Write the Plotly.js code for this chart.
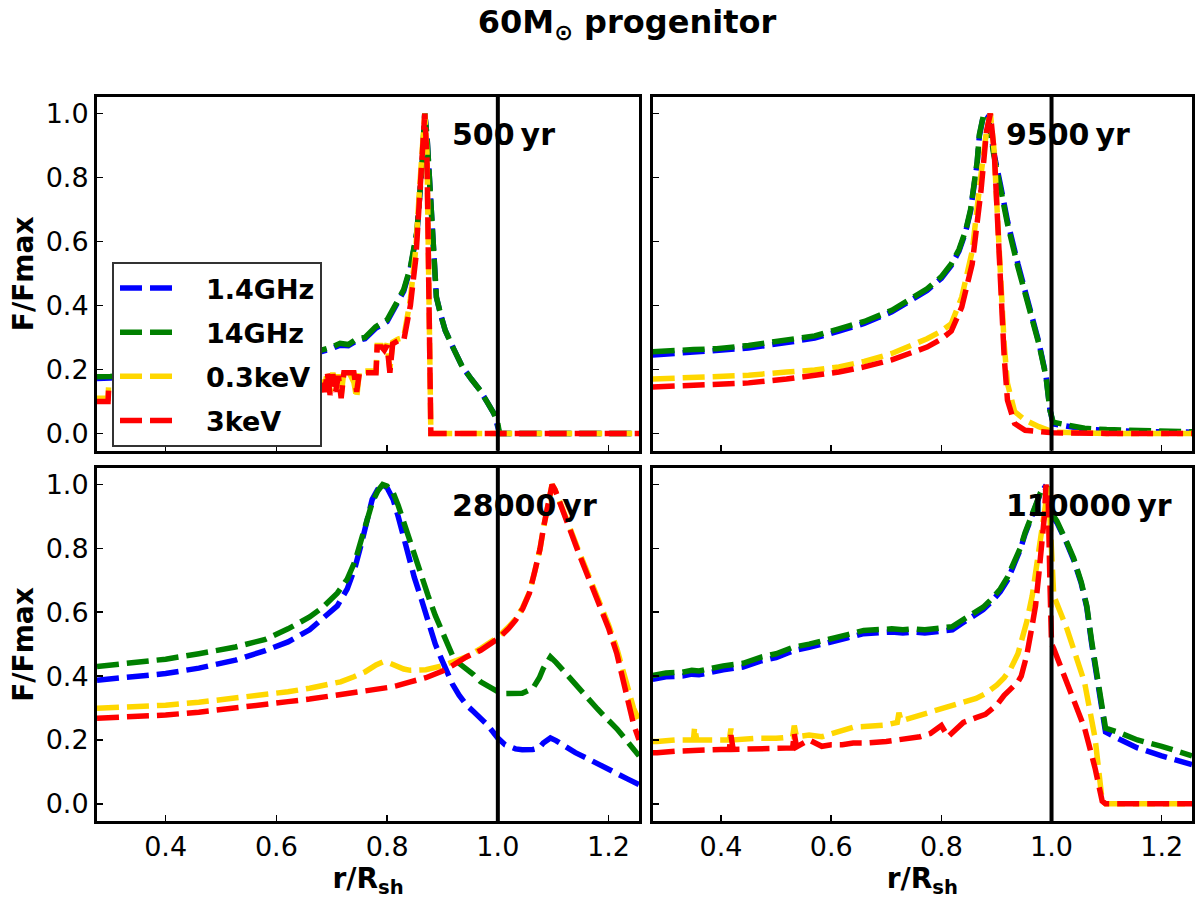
<!DOCTYPE html>
<html>
<head>
<meta charset="utf-8">
<script src="https://cdn.plot.ly/plotly-3.0.1.min.js"></script>
<style>
  html, body { margin: 0; padding: 0; background: #fff; }
  #chart { width: 1200px; height: 900px; }
</style>
</head>
<body>
<div id="chart"></div>
<script>
// Band names and colours
const bands = ["1.4GHz", "14GHz", "0.3keV", "3keV"];
const bandColors = ["#0000ff", "#008000", "#ffd700", "#ff0000"];
const ages = ["500\u2009yr", "9500\u2009yr", "28000\u2009yr", "110000\u2009yr"];
const xTicks = [0.4, 0.6, 0.8, 1.0, 1.2];
const yTicks = [0.0, 0.2, 0.4, 0.6, 0.8, 1.0];

// 500 yr
const rA_radio = [0.276,0.30,0.35,0.40,0.45,0.50,0.55,0.60,0.65,0.684,0.70,0.715,0.73,0.745,0.76,0.779,0.80,0.816,0.83,0.842,0.854,0.864,0.868,0.872,0.876,0.883,0.889,0.897,0.905,0.92,0.936,0.952,0.968,0.98,0.993,1.0,1.003,1.1,1.255];
const fA_14 = [0.172,0.173,0.18,0.185,0.192,0.2,0.21,0.223,0.24,0.256,0.265,0.276,0.274,0.29,0.296,0.328,0.35,0.4,0.445,0.515,0.63,0.86,1.0,0.93,0.80,0.55,0.426,0.37,0.322,0.265,0.208,0.17,0.135,0.1,0.062,0.02,0,0,0];
const fA_140 = [0.177,0.178,0.185,0.19,0.197,0.205,0.215,0.228,0.245,0.262,0.27,0.282,0.278,0.296,0.30,0.333,0.355,0.405,0.45,0.52,0.634,0.863,1.0,0.93,0.80,0.55,0.426,0.37,0.322,0.265,0.208,0.17,0.135,0.1,0.062,0.03,0,0,0];
const rA_xray = [0.276,0.296,0.297,0.35,0.42,0.50,0.58,0.64,0.68,0.687,0.692,0.697,0.702,0.707,0.712,0.717,0.722,0.73,0.74,0.745,0.75,0.77,0.78,0.782,0.79,0.795,0.80,0.805,0.81,0.82,0.83,0.842,0.852,0.858,0.864,0.868,0.872,0.875,0.877,0.879,1.0,1.255];
const fA_03 = [0.11,0.11,0.15,0.15,0.16,0.165,0.17,0.175,0.18,0.14,0.195,0.13,0.19,0.14,0.185,0.12,0.195,0.195,0.16,0.11,0.195,0.195,0.195,0.275,0.275,0.265,0.28,0.2,0.285,0.295,0.3,0.42,0.58,0.75,0.88,1.0,0.88,0.58,0.22,0,0,0];
const fA_3 = [0.10,0.10,0.14,0.14,0.15,0.155,0.16,0.165,0.17,0.13,0.19,0.12,0.185,0.13,0.18,0.11,0.19,0.19,0.19,0.13,0.19,0.19,0.19,0.27,0.27,0.26,0.275,0.19,0.28,0.29,0.29,0.4,0.55,0.72,0.86,1.0,0.86,0.55,0.2,0,0,0];

// 9500 yr
const rB_radio = [0.276,0.284,0.30,0.35,0.392,0.45,0.519,0.57,0.614,0.66,0.71,0.74,0.774,0.80,0.818,0.832,0.844,0.853,0.86,0.865,0.869,0.873,0.877,0.885,0.89,0.895,0.907,0.92,0.939,0.958,0.977,0.99,0.997,1.003,1.03,1.06,1.1,1.155,1.255];
const fB_14 = [0.245,0.246,0.249,0.253,0.257,0.267,0.284,0.298,0.32,0.344,0.38,0.41,0.447,0.485,0.525,0.57,0.63,0.695,0.775,0.845,0.93,0.975,1.0,0.99,0.935,0.88,0.78,0.665,0.53,0.41,0.285,0.18,0.075,0.03,0.02,0.013,0.01,0.006,0.004];
const fB_140 = [0.255,0.255,0.258,0.262,0.265,0.275,0.291,0.305,0.327,0.35,0.385,0.415,0.452,0.49,0.53,0.575,0.634,0.7,0.78,0.85,0.935,0.98,1.0,0.99,0.93,0.873,0.77,0.655,0.52,0.405,0.28,0.177,0.073,0.035,0.025,0.016,0.012,0.008,0.005];
const rB_xray = [0.276,0.30,0.35,0.392,0.45,0.519,0.57,0.614,0.66,0.71,0.774,0.80,0.818,0.837,0.856,0.872,0.882,0.889,0.896,0.901,0.907,0.914,0.92,0.933,0.952,0.977,1.003,1.1,1.255];
const fB_03 = [0.17,0.172,0.175,0.177,0.182,0.192,0.198,0.208,0.225,0.25,0.296,0.32,0.343,0.426,0.57,0.81,0.946,1.0,0.88,0.707,0.49,0.28,0.156,0.068,0.042,0.021,0.004,0,0];
const fB_3 = [0.145,0.147,0.15,0.152,0.158,0.17,0.18,0.192,0.208,0.23,0.27,0.295,0.32,0.395,0.53,0.76,0.946,1.0,0.88,0.707,0.447,0.24,0.104,0.031,0.01,0.005,0.002,0,0];

// 28000 yr
const rC_radio = [0.276,0.34,0.40,0.46,0.526,0.58,0.621,0.66,0.684,0.71,0.728,0.742,0.754,0.764,0.773,0.783,0.792,0.80,0.811,0.82,0.83,0.84,0.849,0.862,0.874,0.887,0.899,0.905,0.918,0.93,0.943,0.956,0.969,0.981,1.0,1.013,1.032,1.044,1.063,1.075,1.082,1.09,1.095,1.105,1.12,1.14,1.158,1.18,1.196,1.215,1.234,1.255];
const fC_14 = [0.387,0.397,0.408,0.425,0.45,0.48,0.507,0.545,0.579,0.62,0.673,0.74,0.818,0.89,0.953,0.985,1.0,0.99,0.953,0.9,0.829,0.77,0.71,0.64,0.57,0.5,0.45,0.424,0.375,0.34,0.31,0.289,0.268,0.247,0.206,0.185,0.172,0.169,0.17,0.175,0.19,0.203,0.206,0.198,0.18,0.16,0.145,0.125,0.108,0.095,0.078,0.06];
const fC_140 = [0.43,0.44,0.453,0.47,0.491,0.515,0.548,0.585,0.616,0.66,0.704,0.76,0.829,0.88,0.943,0.98,1.0,0.995,0.974,0.935,0.88,0.83,0.777,0.715,0.652,0.59,0.538,0.51,0.465,0.44,0.424,0.405,0.382,0.368,0.351,0.345,0.343,0.346,0.361,0.395,0.424,0.45,0.46,0.443,0.413,0.375,0.341,0.297,0.268,0.235,0.195,0.15];
const rC_xray = [0.276,0.34,0.40,0.46,0.526,0.58,0.621,0.66,0.716,0.74,0.76,0.78,0.792,0.805,0.818,0.83,0.842,0.87,0.899,0.92,0.943,0.969,1.0,1.02,1.032,1.045,1.057,1.067,1.076,1.083,1.089,1.094,1.098,1.103,1.114,1.13,1.145,1.165,1.183,1.2,1.215,1.225,1.234,1.245,1.255];
const fC_03 = [0.299,0.303,0.309,0.318,0.33,0.342,0.351,0.362,0.382,0.398,0.413,0.435,0.444,0.44,0.43,0.422,0.418,0.42,0.432,0.447,0.46,0.486,0.522,0.555,0.579,0.615,0.662,0.73,0.797,0.87,0.932,0.975,1.0,0.985,0.932,0.865,0.797,0.71,0.642,0.56,0.486,0.42,0.361,0.3,0.26];
const fC_3 = [0.268,0.273,0.278,0.287,0.299,0.31,0.32,0.328,0.341,0.347,0.352,0.358,0.361,0.365,0.37,0.374,0.382,0.395,0.415,0.435,0.46,0.481,0.517,0.55,0.575,0.612,0.66,0.73,0.797,0.87,0.932,0.975,1.0,0.985,0.93,0.86,0.79,0.70,0.63,0.55,0.47,0.4,0.33,0.25,0.2];

// 110000 yr
const rD_radio = [0.276,0.284,0.30,0.33,0.347,0.36,0.404,0.44,0.474,0.50,0.532,0.56,0.595,0.63,0.659,0.69,0.71,0.73,0.748,0.77,0.799,0.82,0.837,0.856,0.876,0.892,0.907,0.92,0.933,0.943,0.952,0.962,0.971,0.98,0.987,0.993,1.0,1.01,1.028,1.04,1.054,1.064,1.073,1.08,1.086,1.092,1.098,1.12,1.156,1.2,1.255];
const fD_14 = [0.39,0.393,0.398,0.4,0.406,0.404,0.42,0.428,0.448,0.458,0.48,0.49,0.507,0.52,0.533,0.538,0.538,0.535,0.538,0.535,0.54,0.545,0.565,0.585,0.608,0.635,0.665,0.7,0.748,0.795,0.845,0.89,0.94,0.973,0.99,0.98,0.905,0.88,0.815,0.765,0.69,0.615,0.5,0.42,0.35,0.28,0.225,0.205,0.175,0.15,0.123];
const fD_140 = [0.402,0.405,0.41,0.412,0.418,0.416,0.432,0.44,0.46,0.47,0.491,0.5,0.517,0.53,0.543,0.548,0.548,0.545,0.548,0.545,0.55,0.555,0.574,0.593,0.616,0.643,0.673,0.71,0.756,0.8,0.849,0.895,0.943,0.975,0.995,0.985,0.912,0.885,0.818,0.77,0.694,0.62,0.507,0.43,0.361,0.29,0.237,0.225,0.2,0.18,0.15];
const rD_xray = [0.276,0.284,0.32,0.35,0.352,0.356,0.40,0.415,0.418,0.422,0.46,0.50,0.53,0.533,0.537,0.56,0.583,0.60,0.62,0.64,0.66,0.70,0.72,0.723,0.727,0.761,0.78,0.80,0.812,0.84,0.863,0.88,0.901,0.914,0.926,0.939,0.945,0.955,0.965,0.971,0.977,0.984,0.987,0.99,0.994,0.997,1.0,1.004,1.028,1.054,1.06,1.079,1.092,1.098,1.255];
const fD_03 = [0.195,0.195,0.2,0.2,0.24,0.2,0.2,0.2,0.235,0.2,0.205,0.205,0.21,0.245,0.21,0.215,0.21,0.22,0.232,0.24,0.242,0.247,0.255,0.285,0.26,0.278,0.29,0.3,0.304,0.318,0.33,0.345,0.372,0.395,0.424,0.47,0.507,0.57,0.652,0.72,0.797,0.88,0.922,0.96,0.995,0.9,0.746,0.652,0.548,0.413,0.38,0.206,0.008,0,0];
const fD_3 = [0.16,0.16,0.165,0.168,0.168,0.168,0.17,0.17,0.215,0.17,0.172,0.175,0.175,0.22,0.178,0.2,0.18,0.185,0.185,0.19,0.19,0.195,0.2,0.2,0.2,0.21,0.22,0.245,0.21,0.255,0.27,0.28,0.31,0.34,0.36,0.382,0.4,0.465,0.56,0.621,0.72,0.829,0.9,1.0,0.95,0.7,0.5,0.486,0.382,0.26,0.237,0.112,0.008,0,0];

const FONT = "DejaVu Sans";
const DASH = "22px,8px";

const panels = [
  { xa: "x",  ya: "y",  radio: rA_radio, xray: rA_xray, f: [fA_14, fA_140, fA_03, fA_3] },
  { xa: "x2", ya: "y2", radio: rB_radio, xray: rB_xray, f: [fB_14, fB_140, fB_03, fB_3] },
  { xa: "x3", ya: "y3", radio: rC_radio, xray: rC_xray, f: [fC_14, fC_140, fC_03, fC_3] },
  { xa: "x4", ya: "y4", radio: rD_radio, xray: rD_xray, f: [fD_14, fD_140, fD_03, fD_3] }
];

const traces = [];
panels.forEach(function(p, pi){
  bands.forEach(function(b, bi){
    traces.push({
      x: bi < 2 ? p.radio : p.xray,
      y: p.f[bi],
      xaxis: p.xa, yaxis: p.ya,
      type: "scatter", mode: "lines",
      name: b, legendgroup: b,
      showlegend: pi === 0,
      line: { color: bandColors[bi], width: 5.5, dash: DASH },
      hoverinfo: "skip"
    });
  });
});

function xAxis(domain, anchor, labels){
  const ax = {
    domain: domain, anchor: anchor, range: [0.276, 1.255],
    tickvals: xTicks, tickformat: ".1f", showticklabels: labels,
    ticks: "inside", ticklen: 6, tickwidth: 1.5, tickcolor: "#000",
    showline: true, linewidth: 3, linecolor: "#000", mirror: true,
    showgrid: false, zeroline: false,
    tickfont: { family: FONT, size: 27, color: "#000" }
  };
  if(labels) ax.title = { text: "r/R<sub>sh</sub>", font: { family: FONT, size: 28, color: "#000", weight: 700 }, standoff: 6 };
  return ax;
}
function yAxis(domain, anchor, labels){
  const ax = {
    domain: domain, anchor: anchor, range: [-0.054, 1.052],
    tickvals: yTicks, tickformat: ".1f", showticklabels: labels,
    ticks: "inside", ticklen: 6, tickwidth: 1.5, tickcolor: "#000",
    showline: true, linewidth: 3, linecolor: "#000", mirror: true,
    showgrid: false, zeroline: false,
    tickfont: { family: FONT, size: 27, color: "#000" }
  };
  if(labels) ax.title = { text: "F/Fmax", font: { family: FONT, size: 28, color: "#000", weight: 700 }, standoff: 4 };
  return ax;
}

const xL = [0, 0.495], xR = [0.5075, 1];
const yT = [0.5115, 1], yB = [0, 0.4876];

const shapes = panels.map(function(p){
  return { type: "line", xref: p.xa, yref: p.ya + " domain", x0: 1.0, x1: 1.0, y0: 0, y1: 1,
           line: { color: "#000", width: 4 }, layer: "above" };
});

const annotations = panels.map(function(p, i){
  return { xref: p.xa, yref: p.ya, x: 0.913, y: 0.935, text: ages[i], showarrow: false,
           xanchor: "left", yanchor: "middle",
           font: { family: FONT, size: 30, color: "#000", weight: 700 } };
});

const layout = {
  width: 1200, height: 900,
  margin: { l: 97, r: 8, t: 97, b: 79 },
  paper_bgcolor: "#fff", plot_bgcolor: "#fff",
  font: { family: FONT, color: "#000" },
  title: {
    text: "60M<sub>\u2299</sub> progenitor",
    xref: "container", yref: "container", x: 0.5225, y: 0.976,
    xanchor: "center", yanchor: "middle",
    font: { family: FONT, size: 32, color: "#000", weight: 700 }
  },
  xaxis: xAxis(xL, "y", false),
  yaxis: yAxis(yT, "x", true),
  xaxis2: xAxis(xR, "y2", false),
  yaxis2: yAxis(yT, "x2", false),
  xaxis3: xAxis(xL, "y3", true),
  yaxis3: yAxis(yB, "x3", true),
  xaxis4: xAxis(xR, "y4", true),
  yaxis4: yAxis(yB, "x4", false),
  showlegend: true,
  legend: {
    x: 0.0137, y: 0.772, xref: "paper", yref: "paper",
    xanchor: "left", yanchor: "top",
    bgcolor: "#fff", bordercolor: "#333", borderwidth: 2,
    font: { family: FONT, size: 27, color: "#000", weight: 700 },
    tracegroupgap: 6, itemwidth: 82
  },
  shapes: shapes,
  annotations: annotations
};

Plotly.newPlot("chart", traces, layout, { displayModeBar: false, staticPlot: true }).then(function(){
  // longer legend line samples, like the reference
  document.querySelectorAll(".legendlines path").forEach(function(p){
    p.setAttribute("d", "M6,0h56");
  });
});
</script>
</body>
</html>
